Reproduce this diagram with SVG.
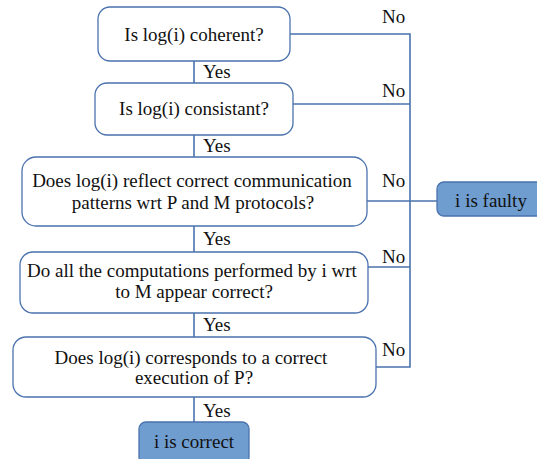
<svg xmlns="http://www.w3.org/2000/svg" width="537" height="459" viewBox="0 0 537 459">
<style>
.q{fill:#ffffff;stroke:#4a72ad;stroke-width:1.3}
.r{fill:#6f9dd0;stroke:#4a72ad;stroke-width:1.3}
.c{fill:none;stroke:#4a72ad;stroke-width:1.6}
text{font-family:"Liberation Serif","Times New Roman",serif;font-size:19px;fill:#111}
.m{text-anchor:middle}
</style>
<rect width="537" height="459" fill="#ffffff"/>
<g id="connectors">
<line class="c" x1="194" y1="61" x2="194" y2="83"/>
<line class="c" x1="194" y1="135" x2="194" y2="157"/>
<line class="c" x1="194" y1="226" x2="194" y2="252"/>
<line class="c" x1="194" y1="313" x2="194" y2="337"/>
<line class="c" x1="194" y1="397" x2="194" y2="422"/>
<polyline class="c" points="290,34 410,34 410,367 376,367"/>
<line class="c" x1="293" y1="104" x2="410" y2="104"/>
<line class="c" x1="367" y1="201" x2="437" y2="201"/>
<line class="c" x1="368" y1="267" x2="410" y2="267"/>
<text x="203" y="78">Yes</text>
<text x="203" y="152">Yes</text>
<text x="203" y="245">Yes</text>
<text x="203" y="331">Yes</text>
<text x="203" y="417">Yes</text>
<text x="382" y="23">No</text>
<text x="382" y="97">No</text>
<text x="382" y="187">No</text>
<text x="382" y="263">No</text>
<text x="382" y="356">No</text>
</g>
<g id="n1">
<rect class="q" x="98" y="7" width="192" height="54" rx="12"/>
<text class="m" x="194" y="41">Is log(i) coherent?</text>
</g>
<g id="n2">
<rect class="q" x="95" y="83" width="198" height="52" rx="12"/>
<text class="m" x="194" y="115">Is log(i) consistant?</text>
</g>
<g id="n3">
<rect class="q" x="22" y="157" width="345" height="69" rx="14"/>
<text class="m" x="192" y="187">Does log(i) reflect correct communication</text>
<text class="m" x="193" y="209">patterns wrt P and M protocols?</text>
</g>
<g id="n4">
<rect class="q" x="20" y="252" width="348" height="61" rx="13"/>
<text class="m" x="192" y="277">Do all the computations performed by i wrt</text>
<text class="m" x="194" y="298">to M appear correct?</text>
</g>
<g id="n5">
<rect class="q" x="13" y="337" width="363" height="60" rx="13"/>
<text class="m" x="191" y="364">Does log(i) corresponds to a correct</text>
<text class="m" x="194" y="384">execution of P?</text>
</g>
<g id="faulty">
<rect class="r" x="437" y="182" width="110" height="34" rx="7"/>
<text class="m" x="491" y="207">i is faulty</text>
</g>
<g id="correct">
<rect class="r" x="139" y="422" width="110" height="42" rx="7"/>
<text class="m" x="194" y="448">i is correct</text>
</g>
</svg>
